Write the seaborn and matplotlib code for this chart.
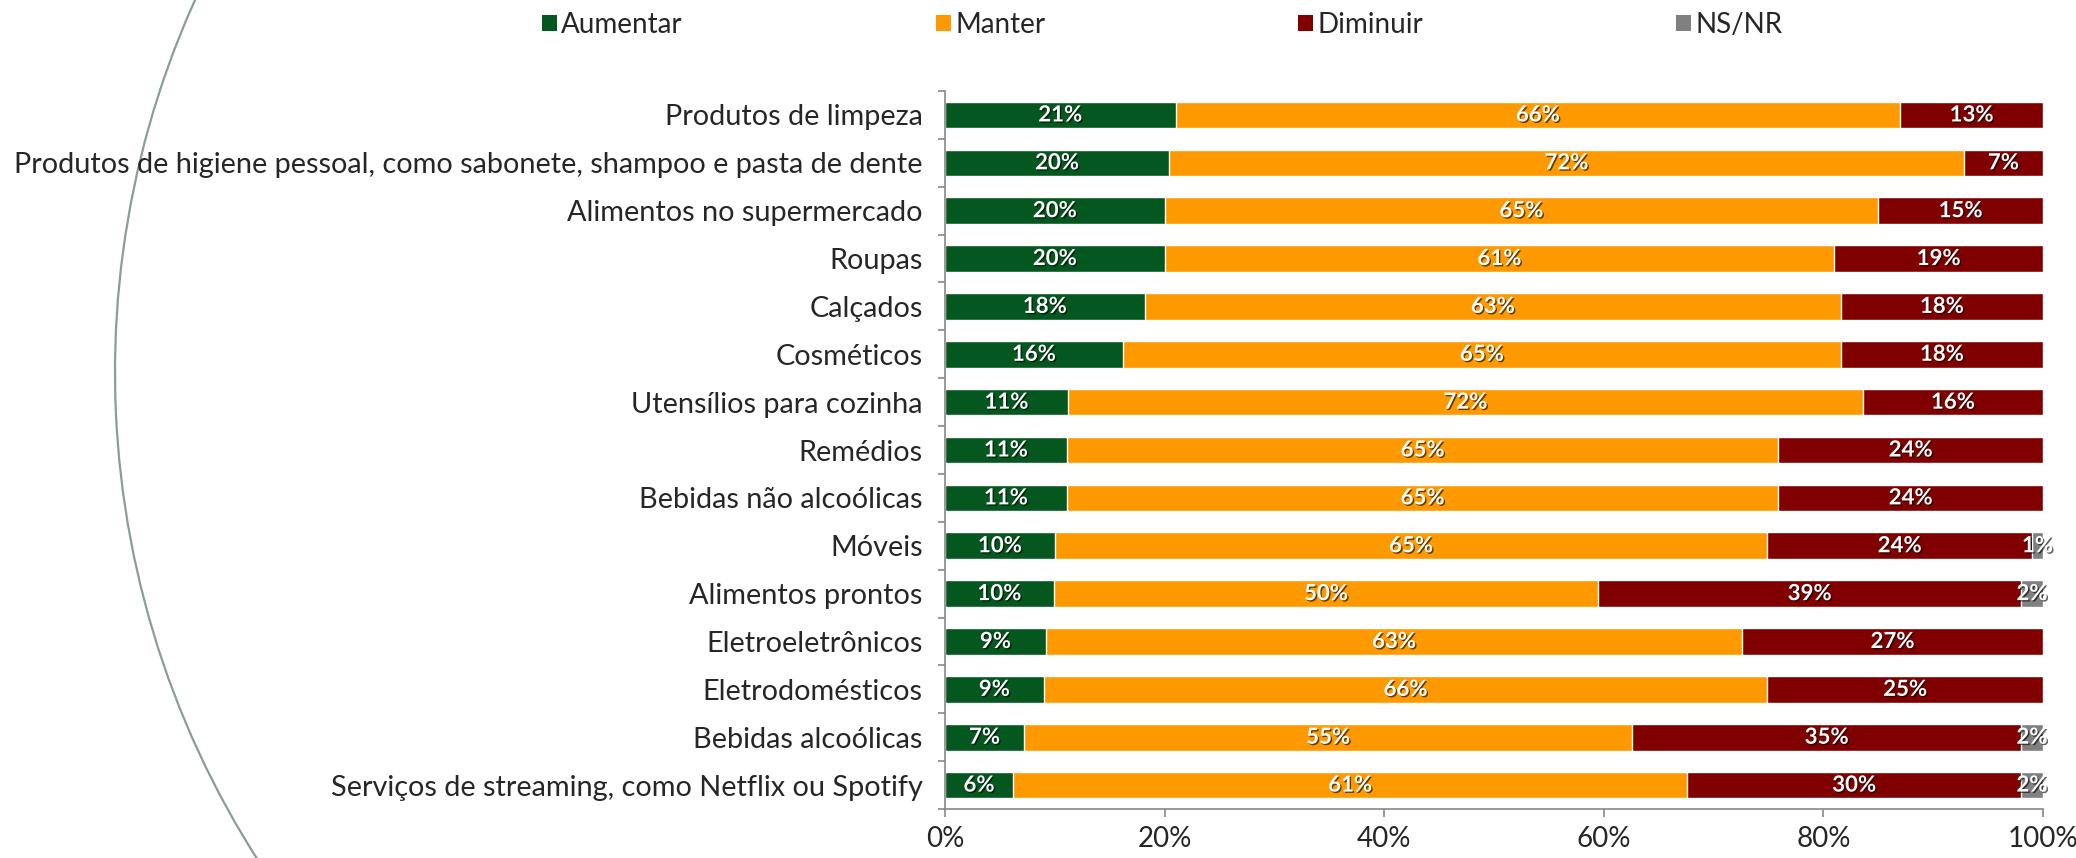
import numpy as np
import matplotlib
matplotlib.use("Agg")
import matplotlib.pyplot as plt
import matplotlib.patheffects as pe
from matplotlib.patches import Patch, Arc
import seaborn as sns

categories = [
    "Produtos de limpeza",
    "Produtos de higiene pessoal, como sabonete, shampoo e pasta de dente",
    "Alimentos no supermercado",
    "Roupas",
    "Calçados",
    "Cosméticos",
    "Utensílios para cozinha",
    "Remédios",
    "Bebidas não alcoólicas",
    "Móveis",
    "Alimentos prontos",
    "Eletroeletrônicos",
    "Eletrodomésticos",
    "Bebidas alcoólicas",
    "Serviços de streaming, como Netflix ou Spotify",
]
aumentar = [21.0, 20.4, 20.0, 20.0, 18.2, 16.2, 11.2, 11.1, 11.1, 10.0, 9.9, 9.2, 9.0, 7.2, 6.2]
manter = [66.0, 72.4, 65.0, 61.0, 63.4, 65.4, 72.4, 64.8, 64.8, 64.9, 49.6, 63.4, 65.9, 55.4, 61.4]
diminuir = [13.0, 7.2, 15.0, 19.0, 18.4, 18.4, 16.4, 24.1, 24.1, 24.1, 38.5, 27.4, 25.1, 35.4, 30.4]
nsnr = [0, 0, 0, 0, 0, 0, 0, 0, 0, 1.0, 2.0, 0, 0, 2.0, 2.0]

series_names = ["Aumentar", "Manter", "Diminuir", "NS/NR"]
colors = ["#04581f", "#ff9900", "#800000", "#808080"]
xticks = [0, 20, 40, 60, 80, 100]

sns.set_style("white")
plt.rcParams["font.family"] = ["Lato", "DejaVu Sans"]

fig = plt.figure(figsize=(20.76, 8.58), dpi=100)

# decorative arc on the left
bg = fig.add_axes([0, 0, 1, 1], zorder=-1)
bg.set_xlim(0, 2076)
bg.set_ylim(0, 858)
bg.axis("off")
bg.add_patch(Arc((1020, 486), 1810, 1810, theta1=150, theta2=215,
                 color="#8c9d97", lw=1.6))

ax = fig.add_axes([0.4552, 0.0571, 0.5289, 0.8368])
ax.patch.set_alpha(0)

series = [aumentar, manter, diminuir, nsnr]
cum = np.cumsum(np.array(series), axis=0)

# draw cumulative totals from the back so the stack shows
for k in range(3, -1, -1):
    sns.barplot(x=cum[k], y=categories, color=colors[k], orient="h",
                width=0.556, saturation=1, ax=ax)

for k in range(4):
    lefts = cum[k] - np.array(series[k])
    for i, v in enumerate(series[k]):
        if v <= 0:
            continue
        ax.text(lefts[i] + v / 2, i, f"{int(v + 0.5)}%", ha="center", va="center",
                color="white", fontsize=16, fontweight="bold", clip_on=False,
                path_effects=[pe.withSimplePatchShadow(offset=(1, -1), shadow_rgbFace="black", alpha=0.6)])

ax.set_xlim(0, 100)
ax.set_ylim(14.5, -0.5)
ax.set_xticks(xticks)
ax.set_xticklabels([f"{t}%" for t in xticks])
ax.set_yticks(np.arange(-0.5, 15, 1), minor=True)
ax.set_xlabel("")
ax.set_ylabel("")

ax.tick_params(axis="x", which="major", length=6, width=1.2, color="#888888",
               direction="out", pad=6, labelsize=20, bottom=True)
ax.tick_params(axis="y", which="major", length=0, pad=16, labelsize=20.8)
ax.tick_params(axis="y", which="minor", length=5, width=1.2, color="#888888",
               direction="out", left=True)
for s in ["top", "right"]:
    ax.spines[s].set_visible(False)
for s in ["left", "bottom"]:
    ax.spines[s].set_color("#888888")
    ax.spines[s].set_linewidth(1.2)

handles = [Patch(facecolor=c, edgecolor="none") for c in colors]
fig.legend(handles, series_names, loc="center", bbox_to_anchor=(0.5598, 0.971),
           ncol=4, frameon=False, fontsize=20, handlelength=0.55, handleheight=0.55,
           handletextpad=0.15, columnspacing=9.1, borderpad=0, borderaxespad=0)

fig.savefig("out.png", dpi=100)
